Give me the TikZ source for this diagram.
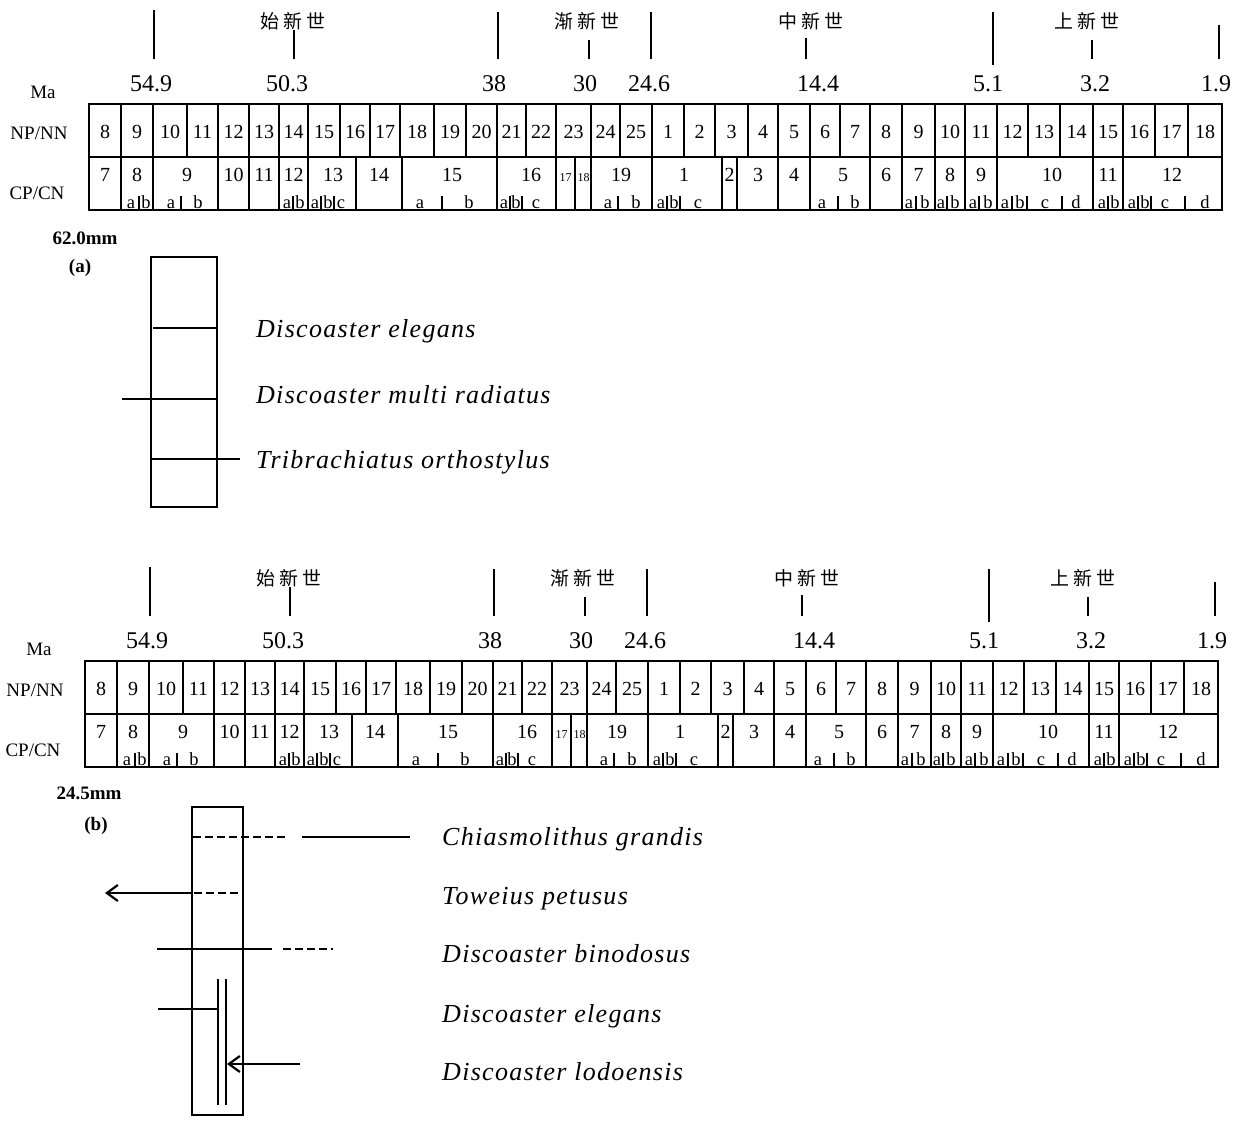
\documentclass[tikz,border=0pt]{standalone}
\usepackage{fontspec}
\setmainfont{Liberation Serif}
\newfontfamily\cjk{Noto Sans CJK SC}
\newfontfamily\labit[LetterSpace=5]{Liberation Serif}
\usetikzlibrary{arrows.meta}
\newcommand\fs[1]{\fontsize{#1pt}{#1pt}\selectfont}
\tikzset{
  gridln/.style={line width=1.6pt},
  tk/.style={line width=1.8pt},
  npnum/.style={font=\fs{20}, inner sep=0pt, anchor=base},
  smnum/.style={font=\fs{12}, inner sep=0pt, anchor=base},
  subl/.style={font=\fs{18.5}, inner sep=0pt, anchor=base},
  manum/.style={font=\fs{24}, inner sep=0pt, anchor=base},
  rowlab/.style={font=\fs{19}, inner sep=0pt},
  epoch/.style={font={\cjk\fs{19}}, inner sep=0pt},
  splab/.style={font={\labit\itshape\fs{26}}, inner sep=0pt, anchor=base west},
  boldlab/.style={font={\bfseries\fs{19}}, inner sep=0pt},
  frame/.style={line width=1.7pt},
  mark line/.style={line width=1.7pt},
  dash line/.style={line width=1.7pt, dash pattern=on 8pt off 4pt},
  barb/.style={-{Straight Barb[length=11pt,width=16pt,line width=2.2pt]}, line width=1.8pt}
}
\newcommand\geotable{%
  % epoch names
  \node[epoch] at (293,21) {始\hspace{4pt}新\hspace{4pt}世};
  \node[epoch] at (587,21) {渐\hspace{4pt}新\hspace{4pt}世};
  \node[epoch] at (811,21) {中\hspace{4pt}新\hspace{4pt}世};
  \node[epoch] at (1087,21) {上\hspace{4pt}新\hspace{4pt}世};
  % boundary ticks
  \foreach \x/\ya/\yb in {154/10/59, 294/30/59, 498/12/59, 589/40/59, 651/12/59,
      806/38/59, 993/12/65, 1092/40/59, 1219/25/59}
    \draw[tk] (\x,\ya) -- (\x,\yb);
  % ages
  \foreach \x/\t in {151/54.9, 287/50.3, 494/38, 585/30, 649/24.6, 818/14.4,
      988/5.1, 1095/3.2, 1216/1.9}
    \node[manum] at (\x,91) {\t};
  % row labels
  \node[rowlab] at (43,92) {Ma};
  \node[rowlab] at (39,133) {NP/NN};
  \node[rowlab] at (37,193) {CP/CN};
  % frame
  \draw[gridln] (89,104) rectangle (1222,210);
  \draw[gridln] (89,157) -- (1222,157);
  % NP/NN row
  \foreach \a/\b/\t in {89/121/8, 121/153/9, 153/187/10, 187/218/11, 218/249/12,
      249/279/13, 279/308/14, 308/340/15, 340/370/16, 370/400/17, 400/434/18,
      434/466/19, 466/497/20, 497/526/21, 526/556/22, 556/591/23, 591/620/24,
      620/652/25, 652/684/1, 684/715/2, 715/748/3, 748/778/4, 778/810/5,
      810/840/6, 840/870/7, 870/902/8, 902/935/9, 935/965/10, 965/997/11,
      997/1028/12, 1028/1060/13, 1060/1093/14, 1093/1123/15, 1123/1155/16,
      1155/1188/17, 1188/1222/18}
  {
    \draw[gridln] (\b,104) -- (\b,157);
    \node[npnum] at ({(\a+\b)/2},138) {\t};
  }
  % CP/CN row
  \foreach \x in {121,153,218,249,279,308,356,402,497,556,575,591,652,722,737,
      778,810,870,902,935,965,997,1093,1123}
    \draw[gridln] (\x,157) -- (\x,210);
  \foreach \x/\t in {105/7, 137/8, 187/9, 233.5/10, 264/11, 293.5/12, 333/13,
      379/14, 452/15, 531/16, 621/19, 684/1, 729.5/2, 758/3, 794/4, 843/5,
      886/6, 918.5/7, 950/8, 981/9, 1052/10, 1108/11, 1172/12}
    \node[npnum] at (\x,181) {\t};
  \node[smnum] at (565.5,181) {17};
  \node[smnum] at (583.5,181) {18};
  % sub-zones
  \foreach \x/\t in {131/a, 146/b, 171/a, 198/b, 287/a, 300/b, 315/a, 328/b,
      341/c, 420/a, 469/b, 504/a, 516/b, 536/c, 608/a, 636/b, 661/a, 674/b,
      698/c, 822/a, 855/b, 909/a, 925/b, 941/a, 955/b, 973/a, 988/b, 1005/a,
      1020/b, 1045/c, 1076/d, 1102/a, 1115/b, 1132/a, 1145/b, 1165/c, 1205/d}
    \node[subl] at (\x,208) {\t};
  \foreach \x in {139, 181, 293, 321, 334, 442, 510, 522, 618, 667, 680, 838,
      916, 947, 979, 1012, 1027, 1062, 1108, 1138, 1151, 1185}
    \draw[gridln] (\x,196) -- (\x,210);
}
\begin{document}
\begin{tikzpicture}[x=1pt,y=-1pt]
\useasboundingbox (0,0) rectangle (1250,1120);
\fill[white] (0,0) rectangle (1250,1120);

% ---------- upper chart ----------
\begin{scope}
  \geotable
\end{scope}

% ---------- panel (a) ----------
\node[boldlab] (mma) at (85,238) {62.0mm};
\node[boldlab] (pa) at (80,268) {(a)};
\draw[frame] (151,257) rectangle (217,507);
\draw[mark line] (153,328) -- (217,328);
\draw[mark line] (122,399) -- (217,399);
\draw[mark line] (151,459) -- (240,459);
\node[splab] (a1) at (256,337) {Discoaster elegans};
\node[splab] (a2) at (256,403) {Discoaster multi radiatus};
\node[splab] (a3) at (256,468) {Tribrachiatus orthostylus};

% ---------- lower chart ----------
\begin{scope}[shift={(-4,557)}]
  \geotable
\end{scope}

% ---------- panel (b) ----------
\node[boldlab] (mmb) at (89,793) {24.5mm};
\node[boldlab] (pb) at (96,826) {(b)};
\draw[frame] (192,807) rectangle (243,1115);
% Chiasmolithus grandis
\draw[dash line] (193,837) -- (288,837);
\draw[mark line] (302,837) -- (410,837);
% Toweius petusus
\coordinate (tw0) at (192,893);
\coordinate (tw1) at (105,893);
\draw[barb] (tw0) -- (tw1);
\draw[dash line] (194,893) -- (242,893);
% Discoaster binodosus
\draw[mark line] (157,949) -- (272,949);
\draw[dash line] (283,949) -- (333,949);
% Discoaster elegans
\draw[mark line] (158,1009) -- (218,1009);
\draw[mark line] (218,979) -- (218,1105);
\draw[mark line] (226,979) -- (226,1105);
% Discoaster lodoensis
\coordinate (lo0) at (300,1064);
\coordinate (lo1) at (227,1064);
\draw[barb] (lo0) -- (lo1);
\node[splab] (b1) at (442,845) {Chiasmolithus grandis};
\node[splab] (b2) at (442,904) {Toweius petusus};
\node[splab] (b3) at (442,962) {Discoaster binodosus};
\node[splab] (b4) at (442,1022) {Discoaster elegans};
\node[splab] (b5) at (442,1080) {Discoaster lodoensis};
\end{tikzpicture}
\end{document}
